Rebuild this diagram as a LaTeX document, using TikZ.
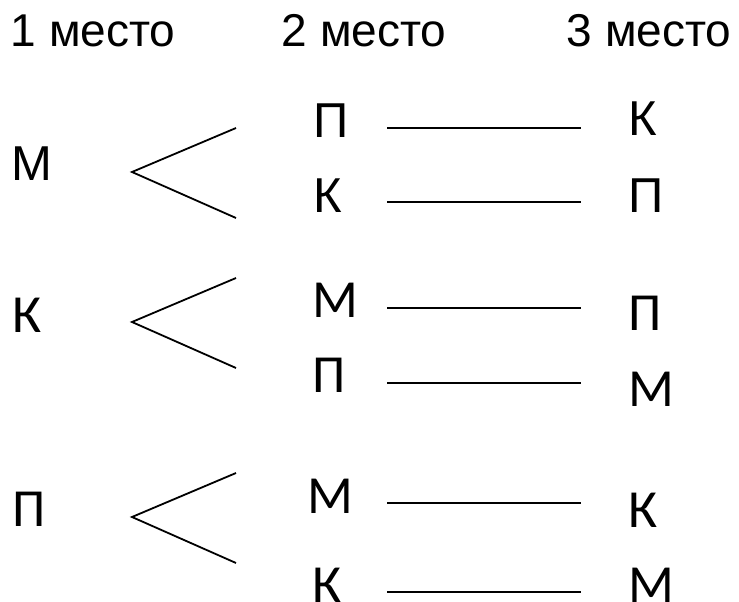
\documentclass[tikz,border=0pt]{standalone}
\usepackage{fontspec}
\setmainfont{Carlito}
\newfontfamily\arialfont{Liberation Sans}
\usepackage{tikz}

\begin{document}
\begin{tikzpicture}[x=1pt,y=-1pt,
  head/.style={anchor=base west,inner sep=0pt,font=\arialfont\fontsize{46}{55}\selectfont},
  firstrow/.style={anchor=base west,inner sep=0pt,font=\arialfont\fontsize{49}{58}\selectfont},
  letter/.style={anchor=base west,inner sep=0pt,font=\fontsize{53.6}{64}\selectfont},
  branch/.style={black,line width=1.8pt}]
\useasboundingbox (0,0) rectangle (739,602);

% column headings
\node[head] (h1) at (10.5,47) {1 место};
\node[head] (h2) at (281.5,47) {2 место};
\node[head] (h3) at (566.5,47) {3 место};

% first place
\node[firstrow] (a1) at (11.5,180) {М};
\node[letter] (a2) at (12,332) {К};
\node[letter] (a3) at (12,526) {П};

% second place
\node[firstrow] (b1) at (313,137) {П};
\node[firstrow] (b2) at (313,212) {К};
\node[letter] (b3) at (312,317) {М};
\node[letter] (b4) at (312,392) {П};
\node[letter] (b5) at (307,513) {М};
\node[letter] (b6) at (312,602) {К};

% third place
\node[firstrow] (c1) at (628,135) {К};
\node[firstrow] (c2) at (628,212) {П};
\node[letter] (c3) at (628,330) {П};
\node[letter] (c4) at (628,406) {М};
\node[letter] (c5) at (628,527) {К};
\node[letter] (c6) at (628,602) {М};

% forks
\coordinate (v1) at (132,172);
\coordinate (v2) at (132,322);
\coordinate (v3) at (132,517);
\coordinate (f1) at (236,128);
\coordinate (f2) at (236,218);
\coordinate (f3) at (236,278);
\coordinate (f4) at (236,368);
\coordinate (f5) at (236,473);
\coordinate (f6) at (236,563);

\draw[branch] (f1) -- (v1) -- (f2);
\draw[branch] (f3) -- (v2) -- (f4);
\draw[branch] (f5) -- (v3) -- (f6);

% straight links
\coordinate (l1) at (387,128);  \coordinate (r1) at (581,128);
\coordinate (l2) at (387,202);  \coordinate (r2) at (581,202);
\coordinate (l3) at (387,308);  \coordinate (r3) at (581,308);
\coordinate (l4) at (387,383);  \coordinate (r4) at (581,383);
\coordinate (l5) at (387,503);  \coordinate (r5) at (581,503);
\coordinate (l6) at (387,592);  \coordinate (r6) at (581,592);

\draw[branch] (l1) -- (r1);
\draw[branch] (l2) -- (r2);
\draw[branch] (l3) -- (r3);
\draw[branch] (l4) -- (r4);
\draw[branch] (l5) -- (r5);
\draw[branch] (l6) -- (r6);

\end{tikzpicture}
\end{document}
